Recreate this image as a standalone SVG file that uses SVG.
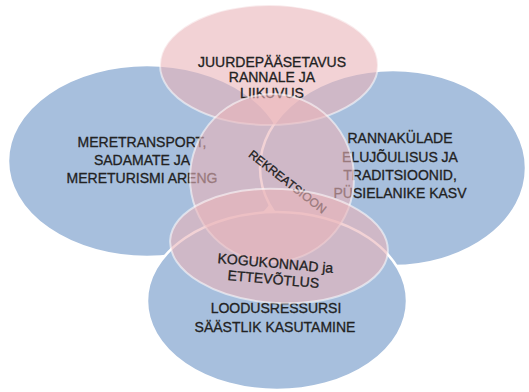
<svg xmlns="http://www.w3.org/2000/svg" width="529" height="392" viewBox="0 0 529 392">
<defs>
<style>
.blue{fill:#a7bfdd;stroke:#ffffff;stroke-width:2.5}
.pink{fill:#e9b4b9;fill-opacity:0.6;stroke:#ffffff;stroke-opacity:0.55;stroke-width:2}
.t{font-family:"Liberation Sans",Arial,sans-serif;font-size:14px;fill:#222222;stroke:#222222;stroke-width:0.3;text-anchor:middle}
.r{font-size:12px}
</style>
</defs>
<rect width="529" height="392" fill="#ffffff"/>
<g id="connectors"/>
<g id="node-meretransport">
<ellipse class="blue" cx="147" cy="161" rx="139" ry="96"/>
<text class="t" x="142" y="147">MERETRANSPORT,</text>
<text class="t" x="142" y="165">SADAMATE JA</text>
<text class="t" x="142" y="183">MERETURISMI ARENG</text>
</g>
<g id="node-rannakulade">
<ellipse class="blue" cx="393" cy="168" rx="133" ry="98"/>
<text class="t" x="400" y="143">RANNAKÜLADE</text>
<text class="t" x="400" y="162">ELUJÕULISUS JA</text>
<text class="t" x="400" y="180">TRADITSIOONID,</text>
<text class="t" x="400" y="198">PÜSIELANIKE KASV</text>
</g>
<g id="node-loodusressursi">
<ellipse class="blue" cx="277" cy="301" rx="130" ry="89"/>
<text class="t" x="276" y="313">LOODUSRESSURSI</text>
<text class="t" x="275" y="332">SÄÄSTLIK KASUTAMINE</text>
</g>
<g id="node-juurdepaasetavus">
<ellipse class="pink" cx="269" cy="65" rx="109" ry="60"/>
<text class="t" x="272" y="67">JUURDEPÄÄSETAVUS</text>
<text class="t" x="272" y="82">RANNALE JA</text>
<text class="t" x="272" y="98">LIIKUVUS</text>
</g>
<g id="node-rekreatsioon">
<ellipse class="pink" cx="272" cy="178" rx="82" ry="84"/>
<text class="t r" x="0" y="0" transform="translate(285,185) rotate(38)">REKREATSIOON</text>
</g>
<g id="node-kogukonnad">
<ellipse class="pink" cx="279" cy="246" rx="109" ry="57" transform="rotate(3 279 246)"/>
<text class="t" x="0" y="0" transform="translate(275,268) rotate(5)">KOGUKONNAD ja</text>
<text class="t" x="0" y="0" transform="translate(273,284) rotate(5)">ETTEVÕTLUS</text>
</g>
</svg>
